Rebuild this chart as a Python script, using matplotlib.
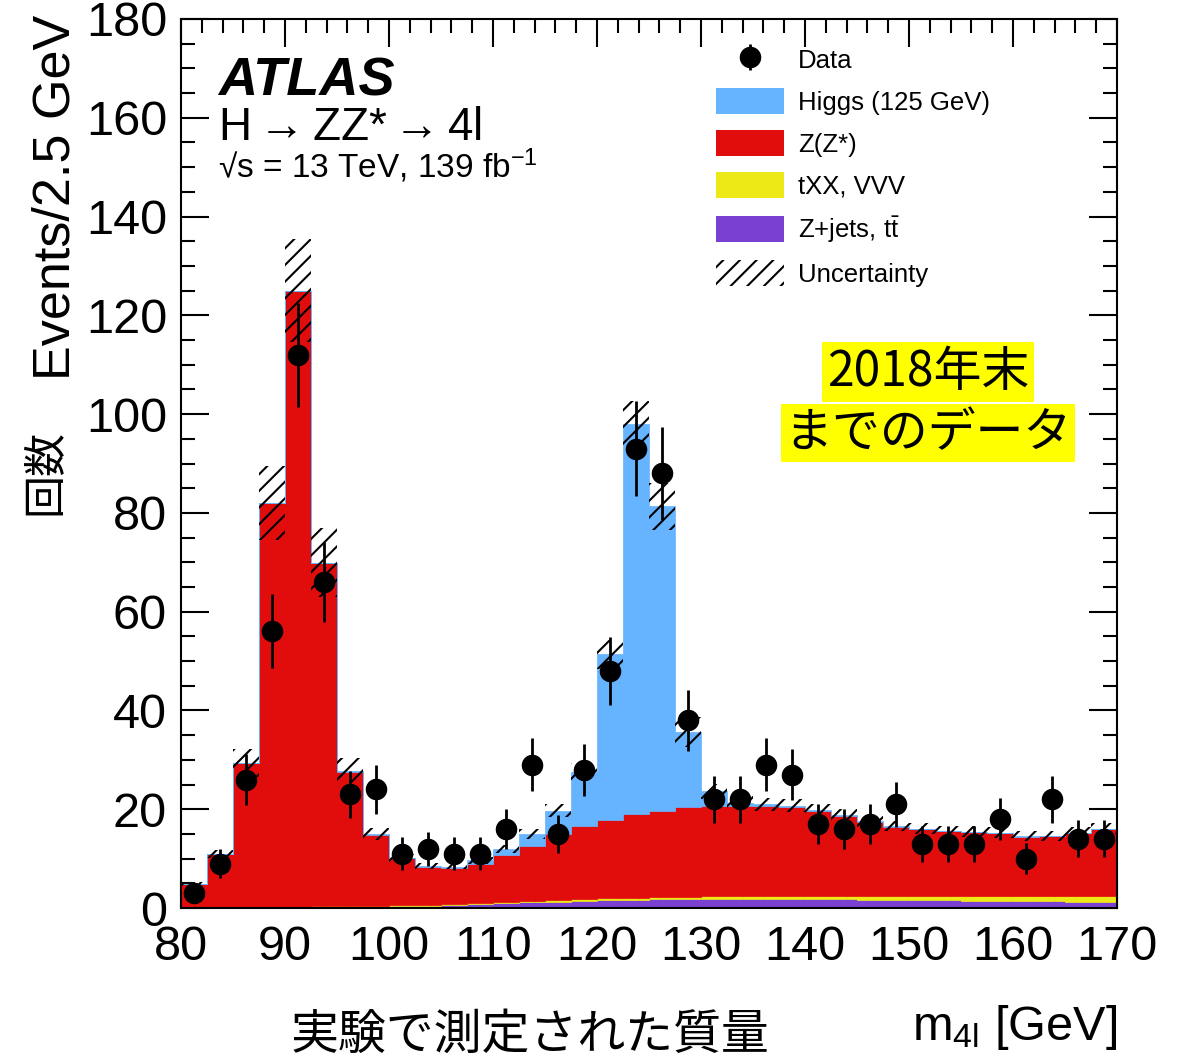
import numpy as np
import matplotlib
matplotlib.use('Agg')
import matplotlib.pyplot as plt
from matplotlib.patches import Patch
from matplotlib import font_manager as fm

# ---------------- data ----------------
bin_start = 80.0
bin_width = 2.5
n_bins = 36

data = [3, 9, 26, 56, 112, 66, 23, 24, 11, 12, 11, 11, 16, 29, 15, 28, 48, 93,
        88, 38, 22, 22, 29, 27, 17, 16, 17, 21, 13, 13, 13, 18, 10, 22, 14, 14]

zjets_tt = [0.05, 0.05, 0.1, 0.15, 0.2, 0.25, 0.3, 0.35, 0.4, 0.5, 0.7, 0.8,
            1.0, 1.2, 1.3, 1.5, 1.6, 1.7, 1.8, 1.9, 1.9, 1.9, 1.9, 1.8,
            1.8, 1.8, 1.7, 1.7, 1.6, 1.6, 1.5, 1.5, 1.4, 1.4, 1.3, 1.3]

txx_vvv = [0.02, 0.03, 0.05, 0.08, 0.1, 0.1, 0.1, 0.12, 0.15, 0.15, 0.2, 0.2,
           0.25, 0.25, 0.3, 0.3, 0.35, 0.35, 0.4, 0.4, 0.45, 0.5, 0.5, 0.55,
           0.6, 0.65, 0.7, 0.7, 0.75, 0.8, 0.85, 0.9, 0.95, 1.0, 1.05, 1.1]

zz = [4.8, 10.9, 29.2, 81.8, 124.7, 69.6, 27.1, 14.3, 9.5, 7.7, 7.3, 7.9,
      9.5, 11.2, 13.3, 14.9, 15.8, 17.0, 17.4, 18.1, 18.3, 18.3, 18.3, 18.2,
      17.3, 16.2, 15.1, 14.1, 13.6, 13.1, 13.0, 12.8, 12.1, 12.1, 12.8, 13.6]

higgs = [0.0, 0.0, 0.0, 0.0, 0.0, 0.0, 0.3, 0.2, 0.15, 0.2, 0.2, 0.8,
         1.2, 2.4, 4.8, 10.9, 33.6, 78.9, 61.7, 15.2, 3.0, 0.6, 0.3, 0.2,
         0.1, 0.1, 0.1, 0.1, 0.1, 0.1, 0.1, 0.05, 0.05, 0.05, 0.05, 0.05]

syst_unc = [0.4, 0.8, 2.8, 7.5, 10.5, 7.0, 2.5, 1.3, 0.8, 0.6, 0.6, 0.7,
            0.8, 1.0, 1.3, 1.8, 3.0, 4.8, 4.8, 3.0, 1.5, 1.3, 1.3, 1.3,
            1.2, 1.2, 1.1, 1.1, 1.1, 1.1, 1.1, 1.1, 1.0, 1.0, 1.1, 1.1]

x_ticks = [80, 90, 100, 110, 120, 130, 140, 150, 160, 170]
y_ticks = [0, 20, 40, 60, 80, 100, 120, 140, 160, 180]

legend_labels = ['Data', 'Higgs (125 GeV)', 'Z(Z*)', 'tXX, VVV',
                 r'Z+jets, t$\bar{\mathrm{t}}$', 'Uncertainty']

# ---------------- style ----------------
names = {f.name for f in fm.fontManager.ttflist}
narrow = 'Liberation Sans Narrow' if 'Liberation Sans Narrow' in names else 'Liberation Sans'
cjk = 'Noto Sans CJK JP'

plt.rcParams['font.family'] = ['Liberation Sans', 'DejaVu Sans']
plt.rcParams['mathtext.fontset'] = 'custom'
plt.rcParams['mathtext.rm'] = 'Liberation Sans'
plt.rcParams['mathtext.it'] = 'Liberation Sans:italic'
plt.rcParams['mathtext.bf'] = 'Liberation Sans:bold'
plt.rcParams['mathtext.default'] = 'regular'
plt.rcParams['hatch.linewidth'] = 1.5
plt.rcParams['hatch.color'] = 'black'

c_purple = '#7a40d2'
c_yellow = '#ede916'
c_red = '#e10c0c'
c_blue = '#66b3ff'

W, H = 1188, 1060
def fx(px):
    return px / W
def fy(py):
    return 1 - py / H

fig = plt.figure(figsize=(W / 100, H / 100), dpi=100)
ax = fig.add_axes([fx(181), fy(908), (1117 - 181) / W, (908 - 19) / H])

edges = bin_start + bin_width * np.arange(n_bins + 1)
centers = 0.5 * (edges[1:] + edges[:-1])

layers = [(zjets_tt, c_purple), (txx_vvv, c_yellow), (zz, c_red), (higgs, c_blue)]
base = np.zeros(n_bins)
for vals, col in layers:
    top = base + np.asarray(vals, dtype=float)
    ax.stairs(top, edges, baseline=base.copy(), fill=True, facecolor=col,
              edgecolor=col, linewidth=0.5, zorder=2)
    base = top
total = base
unc = np.asarray(syst_unc, dtype=float)
ax.stairs(total + unc, edges, baseline=total - unc, fill=True, facecolor='none',
          edgecolor='black', hatch='//', linewidth=0, zorder=3)

d = np.asarray(data, dtype=float)
eb = ax.errorbar(centers, d, yerr=np.sqrt(d), fmt='o', color='black', ms=14.5,
                 elinewidth=2, capsize=0, zorder=5)

ax.set_xlim(80, 170)
ax.set_ylim(0, 180)
ax.set_xticks(x_ticks)
ax.set_yticks(y_ticks)
ax.set_xticks(np.arange(80, 170.1, 2), minor=True)
ax.set_yticks(np.arange(0, 180.1, 5), minor=True)
ax.tick_params(which='both', direction='in', top=True, right=True, width=1.5)
ax.tick_params(which='major', length=20)
ax.tick_params(which='minor', length=10)
ax.tick_params(axis='y', labelsize=35, pad=10)
ax.tick_params(axis='x', labelsize=35, pad=12)
for sp in ax.spines.values():
    sp.set_linewidth(1.5)

# legend
handles = [eb,
           Patch(facecolor=c_blue, edgecolor='none'),
           Patch(facecolor=c_red, edgecolor='none'),
           Patch(facecolor=c_yellow, edgecolor='none'),
           Patch(facecolor=c_purple, edgecolor='none'),
           Patch(facecolor='none', edgecolor='black', hatch='//', linewidth=0)]
fig.legend(handles, legend_labels, loc='upper left',
           bbox_to_anchor=(fx(716), fy(46)), bbox_transform=fig.transFigure,
           frameon=False, fontsize=18.5, handlelength=2.65, handleheight=1.17,
           handletextpad=0.55, labelspacing=0.6, borderpad=0, borderaxespad=0)

# ATLAS labels
fig.text(fx(218), fy(95), 'ATLAS', fontsize=39, fontweight='bold',
         fontstyle='italic', va='baseline', ha='left')
fig.text(fx(218), fy(140), r'H$\rightarrow$ZZ*$\rightarrow$4l', fontsize=33,
         va='baseline', ha='left')
fig.text(fx(218), fy(178), '\u221as = 13 TeV, 139 fb$^{-1}$', fontsize=24,
         va='baseline', ha='left')

# annotation boxes
fig.text(fx(928), fy(372), '2018年末', fontsize=34.5, family=[cjk, 'DejaVu Sans'],
         ha='center', va='center',
         bbox=dict(boxstyle='square,pad=0.1', facecolor='#ffff00', edgecolor='none'))
fig.text(fx(928), fy(433), 'までのデータ', fontsize=34.5, family=[cjk, 'DejaVu Sans'],
         ha='center', va='center',
         bbox=dict(boxstyle='square,pad=0.08', facecolor='#ffff00', edgecolor='none'))

# axis titles
fig.text(fx(70), fy(380), 'Events/2.5 GeV', fontsize=37.5, family=narrow,
         rotation=90, rotation_mode='anchor', ha='left', va='baseline')
fig.text(fx(45), fy(472), '回数', fontsize=31, family=[cjk, 'DejaVu Sans'],
         rotation=90, ha='center', va='center')
fig.text(fx(530), fy(1035), '実験で測定された質量', fontsize=34.5,
         family=[cjk, 'DejaVu Sans'], ha='center', va='center')
fig.text(fx(1117), fy(1040), 'm$_{4l}$ [GeV]', fontsize=35, family=narrow,
         ha='right', va='baseline')

fig.savefig('out.png', dpi=100)
